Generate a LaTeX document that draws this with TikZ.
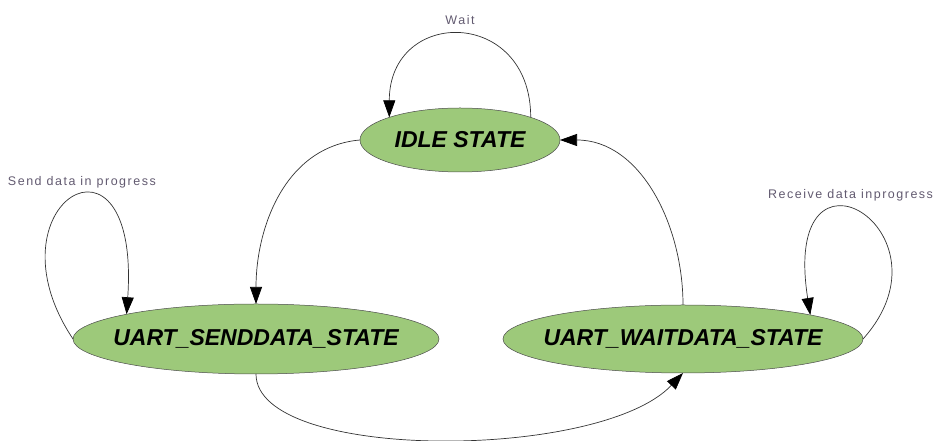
\documentclass[tikz,border=0pt]{standalone}
\usepackage{fontspec}
\usepackage{tikz}
\usetikzlibrary{arrows.meta,shapes.geometric,positioning}
\newfontfamily\statefont{Liberation Sans}
\newfontfamily\lblfont[LetterSpace=12]{Liberation Sans}
\definecolor{stategreen}{RGB}{157,201,122}
\definecolor{lblgray}{RGB}{98,90,112}

\begin{document}
\begin{tikzpicture}[x=1pt, y=1pt, inner sep=0pt, outer sep=0pt, on grid,
->,>={Triangle[length=17pt,width=12pt,color=black]}, line width=0.7pt, draw=black!80,
state/.style={ellipse, draw=gray!60!black, fill=stategreen, line width=0.5pt,
  font=\statefont\bfseries\itshape\fontsize{23}{24}\selectfont},
lbl/.style={font=\lblfont\fontsize{12.5}{14}\selectfont, text=lblgray}]
\useasboundingbox (0,0) rectangle (935,441);
\node[state, minimum width=200, minimum height=64] (IDLE) at (460,301) {\makebox[0pt]{IDLE STATE}};
\node[state, minimum width=366, minimum height=70] (SEND) [below left = 199pt and 204pt of IDLE] {\makebox[0pt]{UART\_SENDDATA\_STATE}};
\node[state, minimum width=360, minimum height=68] (WAIT) [right = 427pt of SEND] {\makebox[0pt]{UART\_WAITDATA\_STATE}};
\node[lbl] (Lwait) at (460,421) {Wait};
\node[lbl, anchor=west] (Lsend) at (8,259) {Send data in progress};
\node[lbl, anchor=east] (Lrecv) at (933,246) {Receive data inprogress};
\path
(IDLE.north east) edge [out=90, in=90, looseness=2] (IDLE.north west)
(IDLE.west) edge [out=185, in=90] (SEND.north)
(WAIT.north) edge [out=90, in=0] (IDLE.east)
;
\draw (SEND.west) .. controls +(-90,135) and +(14,205) .. (SEND.north west);
\draw (SEND.south) .. controls +(0,-88) and +(-83,-88) .. (WAIT.south);
\draw (WAIT.east) .. controls +(97,108) and +(-30,192) .. (WAIT.north east);
\end{tikzpicture}
\end{document}
